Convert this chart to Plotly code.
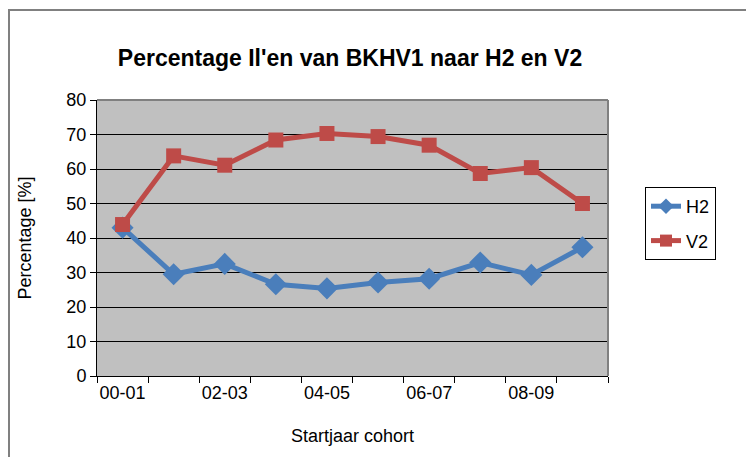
import plotly.graph_objects as go

categories = ["00-01", "01-02", "02-03", "03-04", "04-05", "05-06", "06-07", "07-08", "08-09", "09-10"]
h2_values = [43.0, 29.5, 32.5, 26.6, 25.4, 27.1, 28.2, 32.9, 29.3, 37.3]
v2_values = [43.9, 63.8, 61.1, 68.4, 70.3, 69.4, 66.9, 58.7, 60.4, 50.0]
y_ticks = [0, 10, 20, 30, 40, 50, 60, 70, 80]
x_ticklabels = ["00-01", "", "02-03", "", "04-05", "", "06-07", "", "08-09", ""]

# the page body has an 8px margin, so figure coordinates = page coordinates - 8
OFF = 8
W, H = 754 - OFF, 457 - OFF
L, R, T, B = 97 - OFF, 608 - OFF, 100 - OFF, 376 - OFF

fig = go.Figure()
fig.add_trace(go.Scatter(x=categories, y=h2_values, name="H2", mode="lines+markers", legendgroup="h2",
                         line=dict(color="#4A7EBB", width=5),
                         marker=dict(symbol="diamond", size=17, color="#4A7EBB")))
fig.add_trace(go.Scatter(x=categories, y=v2_values, name="V2", mode="lines+markers", legendgroup="v2",
                         line=dict(color="#BE4B48", width=5),
                         marker=dict(symbol="square", size=15, color="#BE4B48")))

font = "Liberation Sans, Arial, sans-serif"
pw, ph = R - L, B - T

fig.update_layout(
    width=W, height=H,
    margin=dict(l=L, r=W - R, t=T, b=H - B, pad=0, autoexpand=False),
    paper_bgcolor="white", plot_bgcolor="#C0C0C0",
    font=dict(family=font, size=18, color="black"),
    title=dict(text="<b>Percentage Il'en van BKHV1 naar H2 en V2</b>", x=(350 - OFF) / W, xanchor="center",
               y=1 - (58 - OFF) / H, yanchor="middle", font=dict(size=23, family=font)),
    showlegend=True,
    legend=dict(x=(645 - OFF - L) / pw, y=(B - (187 - OFF)) / ph, xanchor="left", yanchor="top",
                bordercolor="black", borderwidth=1, bgcolor="white", itemsizing="constant",
                font=dict(size=18, family=font), tracegroupgap=8),
    xaxis=dict(type="category", tickmode="array", tickvals=categories, ticktext=x_ticklabels,
               tickson="boundaries", ticks="outside", ticklen=6, tickcolor="black", tickangle=0,
               showline=True, linecolor="black", linewidth=1, mirror=False, automargin=False,
               showgrid=False, range=[-0.5, 9.5],
               title=dict(text="Startjaar cohort", standoff=27, font=dict(size=18))),
    yaxis=dict(range=[0, 80], tickvals=y_ticks, ticks="outside", ticklen=6, tickcolor="black",
               ticksuffix="\u00a0\u00a0",
               showline=True, linecolor="black", linewidth=1, automargin=False,
               showgrid=True, gridcolor="black", gridwidth=1, zeroline=False,
               title=dict(text="Percentage [%]", standoff=30, font=dict(size=18))),
    shapes=[
        dict(type="line", xref="paper", yref="paper", x0=0, x1=1, y0=1, y1=1,
             line=dict(color="#808080", width=2)),
        dict(type="line", xref="paper", yref="paper", x0=1, x1=1, y0=0, y1=1,
             line=dict(color="#808080", width=2)),
        dict(type="rect", xref="paper", yref="paper",
             x0=(1 - L) / pw, x1=(800 - L) / pw, y0=(B - 500) / ph, y1=(B - (10 - OFF)) / ph,
             line=dict(color="#808080", width=2), layer="below"),
    ],
)
fig.write_html("out.html")
